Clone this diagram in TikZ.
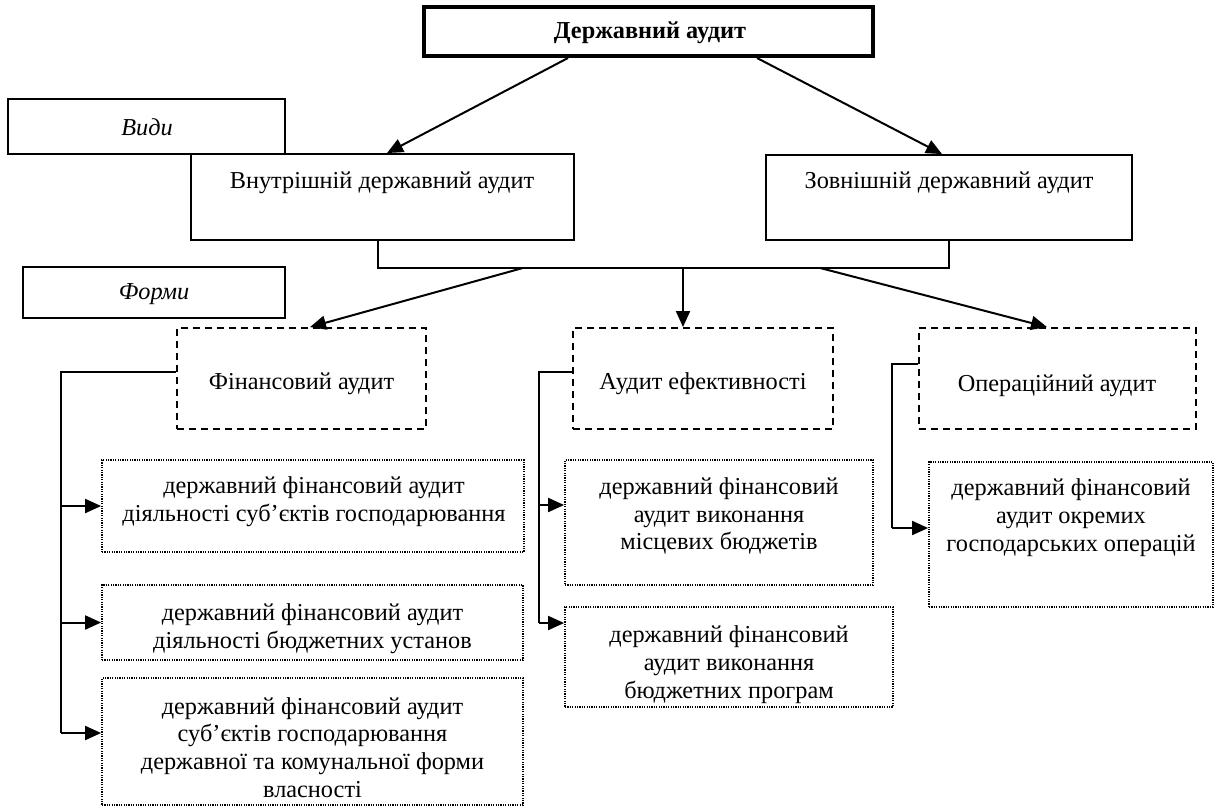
\documentclass[tikz,border=0pt]{standalone}
\usepackage{fontspec}
\setmainfont{Liberation Serif}
\usetikzlibrary{arrows.meta,calc}
\begin{document}
\begin{tikzpicture}[x=1pt,y=-1pt,
  bx/.style={draw, rectangle, line width=1.9pt, inner sep=0pt},
  dbx/.style={bx, dash pattern=on 7pt off 5pt},
  obx/.style={bx, line width=1.8pt, dash pattern=on 1.2pt off 1.2pt},
  txt/.style={font=\fontsize{24.3}{27.8}\selectfont, align=center, inner sep=0pt},
  ln/.style={line width=2pt},
  arr/.style={line width=2pt, -{Triangle[length=16pt,width=14pt]}}]
\useasboundingbox (0,0) rectangle (1217,807);

% boxes
\node[bx, line width=4pt, minimum width=449pt, minimum height=49pt] (top) at (648.5,31.5) {};
\node[bx, minimum width=277pt, minimum height=55pt] (vydy) at (146.5,126.5) {};
\node[bx, minimum width=383pt, minimum height=86pt] (vnut) at (382.5,197) {};
\node[bx, minimum width=366pt, minimum height=85pt] (zovn) at (949,197.5) {};
\node[bx, minimum width=262pt, minimum height=51pt] (formy) at (154,292.5) {};
\node[dbx, minimum width=249pt, minimum height=101pt] (fin) at (301.5,378.5) {};
\node[dbx, minimum width=260pt, minimum height=101pt] (ef) at (703,378.5) {};
\node[dbx, minimum width=277pt, minimum height=101pt] (op) at (1057.5,378.5) {};
\node[obx, minimum width=422pt, minimum height=92pt] (d1) at (313,506) {};
\node[obx, minimum width=421pt, minimum height=75pt] (d2) at (312.5,622.5) {};
\node[obx, minimum width=421pt, minimum height=127pt] (d3) at (312.5,741.5) {};
\node[obx, minimum width=308pt, minimum height=125pt] (m1) at (719,522.5) {};
\node[obx, minimum width=328pt, minimum height=100pt] (m2) at (729,657) {};
\node[obx, minimum width=284pt, minimum height=145pt] (r1) at (1071,534.5) {};

% texts
\node[txt, font=\fontsize{24.3}{27.8}\selectfont\bfseries] (topt) at (650,33) {Державний аудит};
\node[txt, font=\fontsize{24.3}{27.8}\selectfont\itshape] (vydyt) at (147,127) {Види};
\node[txt] (vnutt) at (382,183) {Внутрішній державний аудит};
\node[txt] (zovnt) at (949,183) {Зовнішній державний аудит};
\node[txt, font=\fontsize{24.3}{27.8}\selectfont\itshape] (formyt) at (154,294) {Форми};
\node[txt] (fint) at (301.5,384) {Фінансовий аудит};
\node[txt] (eft) at (703,384) {Аудит ефективності};
\node[txt] (opt) at (1057,386) {Операційний аудит};
\node[txt] (d1t) at (314,502) {державний фінансовий аудит\\діяльності суб’єктів господарювання};
\node[txt] (d2t) at (312.5,629) {державний фінансовий аудит\\діяльності бюджетних установ};
\node[txt] (d3t) at (312.5,747.5) {державний фінансовий аудит\\суб’єктів господарювання\\державної та комунальної форми\\власності};
\node[txt] (m1t) at (719,516) {державний фінансовий\\аудит виконання\\місцевих бюджетів};
\node[txt] (m2t) at (729,664.5) {державний фінансовий\\аудит виконання\\бюджетних програм};
\node[txt] (r1t) at (1071,517.5) {державний фінансовий\\аудит окремих\\господарських операцій};

% connectors: top level
\draw[arr] ($(top.south)+(-80.5,0)$) -- ($(vnut.north)+(4.5,0)$);
\draw[arr] ($(top.south)+(108.5,0)$) -- ($(zovn.north)+(-7,0)$);

% bracket
\coordinate (bl) at ($(vnut.south)+(-4.5,27)$);
\coordinate (br) at (zovn.south |- bl);
\draw[ln] ($(vnut.south)+(-4.5,0)$) -- (bl) -- (br) -- (zovn.south);
\draw[arr] ($(bl)+(145,0)$) -- ($(fin.north)+(8.5,0)$);
\draw[arr] ($(bl)+(305,0)$) -- ($(ef.north)+(-20,0)$);
\draw[arr] ($(bl)+(442,0)$) -- ($(op.north)+(-10.5,0)$);

% left spine
\coordinate (fs) at ($(fin.west)+(-115,-6.5)$);
\coordinate (fe) at ($(fs |- d3.west)+(0,-8.5)$);
\draw[ln] ($(fin.west)+(0,-6.5)$) -- (fs) -- (fe);
\draw[arr] (fs |- d1.west) -- (d1.west);
\draw[arr] (fs |- d2.west) -- (d2.west);
\draw[arr] (fe) -- ($(d3.west)+(0,-8.5)$);

% middle spine
\coordinate (es) at ($(ef.west)+(-33,-6.5)$);
\draw[ln] ($(ef.west)+(0,-6.5)$) -- (es) -- ($(es |- m2.west)+(0,-34)$);
\draw[arr] ($(es |- m1.west)+(0,-17.5)$) -- ($(m1.west)+(0,-17.5)$);
\draw[arr] ($(es |- m2.west)+(0,-34)$) -- ($(m2.west)+(0,-34)$);

% right spine
\coordinate (os) at ($(op.west)+(-26,-14.5)$);
\draw[ln] ($(op.west)+(0,-14.5)$) -- (os) -- ($(os |- r1.west)+(0,-6.5)$);
\draw[arr] ($(os |- r1.west)+(0,-6.5)$) -- ($(r1.west)+(0,-6.5)$);
\end{tikzpicture}
\end{document}
